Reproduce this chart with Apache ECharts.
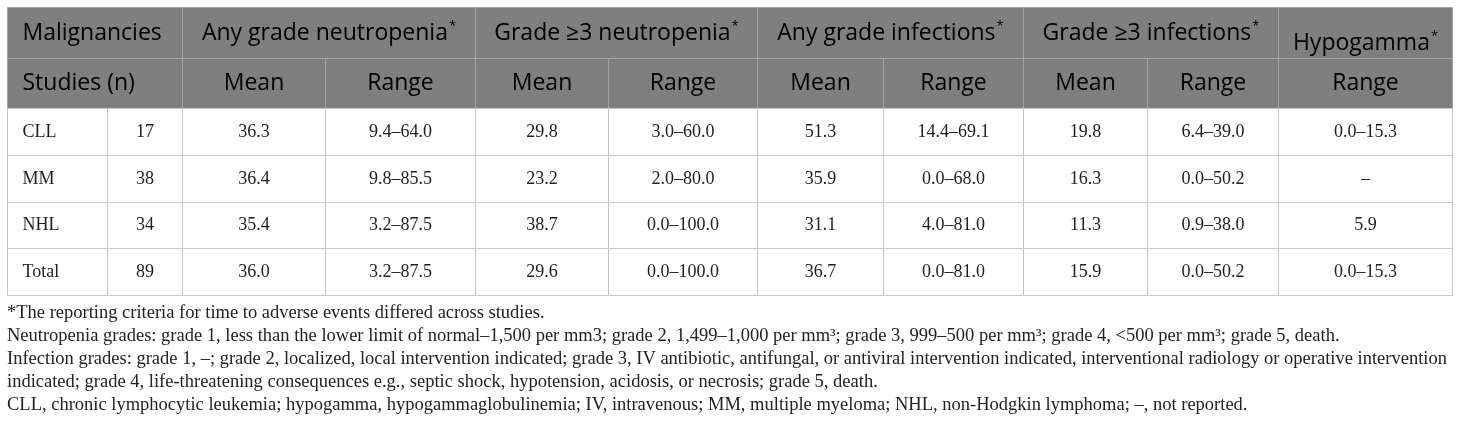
<!DOCTYPE html>
<html>
<head>
<meta charset="utf-8">
<script src="https://cdn.jsdelivr.net/npm/echarts@6/dist/echarts.min.js"></script>
<style>
html, body { margin: 0; padding: 0; background: #fff; }
#ct1 { width: 1460px; height: 428px; }
</style>
</head>
<body>
<div id="ct1"></div>
<script>
// table content
var groups = ['Any grade neutropenia', 'Grade \u22653 neutropenia', 'Any grade infections', 'Grade \u22653 infections', 'Hypogamma'];
var subHeads = ['Mean', 'Range', 'Mean', 'Range', 'Mean', 'Range', 'Mean', 'Range', 'Range'];
var malignancies = ['CLL', 'MM', 'NHL', 'Total'];
var studies = [17, 38, 34, 89];
var anyNeutMean = [36.3, 36.4, 35.4, 36.0];
var anyNeutRange = ['9.4\u201364.0', '9.8\u201385.5', '3.2\u201387.5', '3.2\u201387.5'];
var g3NeutMean = [29.8, 23.2, 38.7, 29.6];
var g3NeutRange = ['3.0\u201360.0', '2.0\u201380.0', '0.0\u2013100.0', '0.0\u2013100.0'];
var anyInfMean = [51.3, 35.9, 31.1, 36.7];
var anyInfRange = ['14.4\u201369.1', '0.0\u201368.0', '4.0\u201381.0', '0.0\u201381.0'];
var g3InfMean = [19.8, 16.3, 11.3, 15.9];
var g3InfRange = ['6.4\u201339.0', '0.0\u201350.2', '0.9\u201338.0', '0.0\u201350.2'];
var hypoRange = ['0.0\u201315.3', '\u2013', '5.9', '0.0\u201315.3'];
var footnotes = [
	'*The reporting criteria for time to adverse events differed across studies.',
	'Neutropenia grades: grade 1, less than the lower limit of normal\u20131,500 per mm3; grade 2, 1,499\u20131,000 per mm\u00b3; grade 3, 999\u2013500 per mm\u00b3; grade 4, <500 per mm\u00b3; grade 5, death.',
	'Infection grades: grade 1, \u2013; grade 2, localized, local intervention indicated; grade 3, IV antibiotic, antifungal, or antiviral intervention indicated, interventional radiology or operative intervention',
	'indicated; grade 4, life-threatening consequences e.g., septic shock, hypotension, acidosis, or necrosis; grade 5, death.',
	'CLL, chronic lymphocytic leukemia; hypogamma, hypogammaglobulinemia; IV, intravenous; MM, multiple myeloma; NHL, non-Hodgkin lymphoma; \u2013, not reported.'
];

// layout (table units = px)
var colEdges = [0, 100, 175, 318, 468, 601, 750, 876, 1016, 1140, 1271, 1445];
var rowEdges = [0, 51, 101, 148, 195, 241, 288];
var footY = [315, 338, 361, 384, 407];
var headBg = '#7f7f7f';
var headLine = '#a3a3a3';
var bodyLine = '#c8c8c8';

function fmt(v) {
	return typeof v === 'number' ? v.toFixed(1) : v;
}

var cells = [];
// header row 1
cells.push({ c0: 0, c1: 2, r0: 0, r1: 1, text: 'Malignancies', head: true, left: true });
for (var g = 0; g < groups.length; g++) {
	var last = g == groups.length - 1;
	cells.push({ c0: 2 + g * 2, c1: last ? 11 : 4 + g * 2, r0: 0, r1: 1, text: groups[g], head: true, star: true, dy: last ? 10 : 0 });
}
// header row 2
cells.push({ c0: 0, c1: 2, r0: 1, r1: 2, text: 'Studies (n)', head: true, left: true });
for (var s = 0; s < subHeads.length; s++) {
	cells.push({ c0: 2 + s, c1: 3 + s, r0: 1, r1: 2, text: subHeads[s], head: true });
}
// body
var bodyCols = [anyNeutMean, anyNeutRange, g3NeutMean, g3NeutRange, anyInfMean, anyInfRange, g3InfMean, g3InfRange, hypoRange];
for (var i = 0; i < malignancies.length; i++) {
	cells.push({ c0: 0, c1: 1, r0: 2 + i, r1: 3 + i, text: malignancies[i], left: true });
	cells.push({ c0: 1, c1: 2, r0: 2 + i, r1: 3 + i, text: String(studies[i]) });
	for (var k = 0; k < bodyCols.length; k++) {
		cells.push({ c0: 2 + k, c1: 3 + k, r0: 2 + i, r1: 3 + i, text: fmt(bodyCols[k][i]) });
	}
}

function renderCell(params, api) {
	var cell = cells[params.dataIndex];
	var p0 = api.coord([colEdges[cell.c0], rowEdges[cell.r0]]);
	var p1 = api.coord([colEdges[cell.c1], rowEdges[cell.r1]]);
	var x0 = Math.round(p0[0]) + 0.5, y0 = Math.round(p0[1]) + 0.5;
	var x1 = Math.round(p1[0]) + 0.5, y1 = Math.round(p1[1]) + 0.5;
	var tx = cell.left ? x0 + 15 : (x0 + x1) / 2;
	var ty = (y0 + y1) / 2 + (cell.dy || 0);
	var txt;
	if (cell.head) {
		txt = {
			type: 'text',
			style: {
				text: cell.star ? '{t|' + cell.text + '}{s|*}' : '{t|' + cell.text + '}',
				x: tx, y: ty,
				align: cell.left ? 'left' : 'center',
				verticalAlign: 'middle',
				rich: {
					t: { fontFamily: 'Open Sans', fontSize: 23, color: '#fff', lineHeight: 26 },
					s: { fontFamily: 'Open Sans', fontSize: 13, color: '#fff', lineHeight: 22, verticalAlign: 'top', padding: [0, 0, 0, 1] }
				}
			}
		};
	} else {
		txt = {
			type: 'text',
			style: {
				text: cell.text,
				x: tx, y: ty,
				align: cell.left ? 'left' : 'center',
				verticalAlign: 'middle',
				font: '18px "Liberation Serif"',
				fill: '#1e1e1e'
			}
		};
	}
	return {
		type: 'group',
		children: [{
			type: 'rect',
			shape: { x: x0, y: y0, width: x1 - x0, height: y1 - y0 },
			style: { fill: cell.head ? headBg : '#fff', stroke: cell.head ? headLine : bodyLine, lineWidth: 1 }
		}, txt]
	};
}

var noteGraphics = [];
for (var n = 0; n < footnotes.length; n++) {
	noteGraphics.push({
		type: 'text',
		left: 7,
		top: footY[n] - 11,
		style: { text: footnotes[n], font: '18.5px "Liberation Serif"', fill: '#222' }
	});
}

var option1 = {
	animation: false,
	grid: { left: 7, top: 7, width: colEdges[colEdges.length - 1], height: rowEdges[rowEdges.length - 1] },
	xAxis: { type: 'value', min: 0, max: colEdges[colEdges.length - 1], show: false },
	yAxis: { type: 'value', min: 0, max: rowEdges[rowEdges.length - 1], inverse: true, show: false },
	series: [{
		type: 'custom',
		renderItem: renderCell,
		data: cells.map(function(c) { return [colEdges[c.c0], rowEdges[c.r0]]; }),
		silent: true
	}],
	graphic: noteGraphics
};

var myChart1 = echarts.init(document.getElementById('ct1'));
myChart1.setOption(option1, true);
</script>
</body>
</html>
